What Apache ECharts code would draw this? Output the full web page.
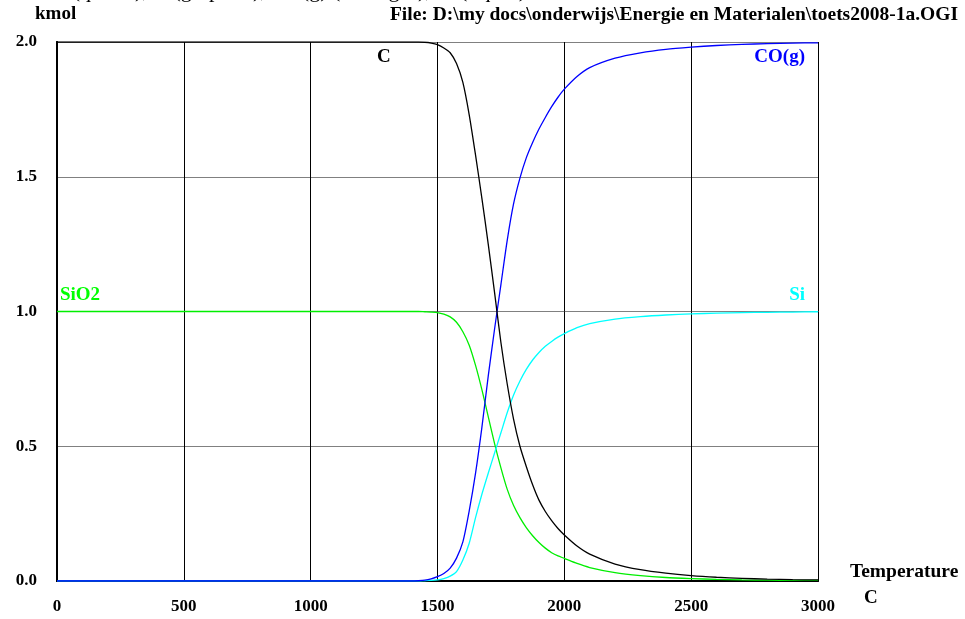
<!DOCTYPE html>
<html>
<head>
<meta charset="utf-8">
<script src="https://cdn.jsdelivr.net/npm/echarts@6/dist/echarts.min.js"></script>
<style>
    html, body {margin:0;padding:0;background:#ffffff;}
    #chart {width:965px;height:619px;}
</style>
</head>
<body>
<div id="chart"></div>
<script>
    // temperature (C)
    var temps = [0, 500, 1000, 1400, 1425, 1450, 1475, 1500, 1525, 1550, 1575, 1600, 1625, 1650, 1675,
        1700, 1725, 1750, 1775, 1800, 1825, 1850, 1875, 1900, 1925, 1950, 1975, 2000, 2050, 2100,
        2200, 2300, 2400, 2500, 2600, 2700, 2800, 2900, 3000];
    // amounts in kmol
    var cVals = [2, 2, 2, 2, 2, 1.999, 1.996, 1.99, 1.978, 1.96, 1.92, 1.85, 1.73, 1.58, 1.42,
        1.25, 1.07, 0.885, 0.73, 0.60, 0.50, 0.425, 0.357, 0.30, 0.258, 0.224, 0.195, 0.171, 0.13, 0.10,
        0.063, 0.042, 0.029, 0.02, 0.014, 0.010, 0.007, 0.005, 0.004];
    var coVals = [0, 0, 0, 0, 0.001, 0.003, 0.008, 0.016, 0.028, 0.048, 0.085, 0.145, 0.26, 0.40, 0.57,
        0.76, 0.935, 1.10, 1.265, 1.40, 1.495, 1.57, 1.627, 1.677, 1.72, 1.76, 1.795, 1.825, 1.872, 1.905,
        1.94, 1.96, 1.973, 1.981, 1.987, 1.991, 1.994, 1.996, 1.997];
    var sio2Vals = [1, 1, 1, 1, 1, 0.999, 0.998, 0.996, 0.99, 0.98, 0.96, 0.925, 0.875, 0.80, 0.71,
        0.61, 0.51, 0.42, 0.34, 0.28, 0.235, 0.198, 0.168, 0.143, 0.122, 0.105, 0.093, 0.084, 0.065, 0.05,
        0.031, 0.02, 0.013, 0.009, 0.006, 0.004, 0.003, 0.002, 0.002];
    var siVals = [0, 0, 0, 0, 0, 0.001, 0.002, 0.004, 0.009, 0.018, 0.035, 0.078, 0.14, 0.235, 0.322,
        0.40, 0.475, 0.55, 0.625, 0.69, 0.742, 0.785, 0.82, 0.848, 0.871, 0.889, 0.905, 0.918, 0.94, 0.955,
        0.972, 0.981, 0.987, 0.991, 0.994, 0.996, 0.997, 0.998, 0.999];

    function pairs(vals) {
        var out = [];
        for (var i = 0; i < temps.length; i++) {
            out.push([temps[i], vals[i]]);
        }
        return out;
    }

    var font = '"Liberation Serif", "Times New Roman", serif';
    var myChart = echarts.init(document.getElementById('chart'));

    function line(name, vals, color) {
        return {
            name: name,
            type: 'line',
            data: pairs(vals),
            showSymbol: false,
            smooth: 0.25,
            lineStyle: {color: color, width: 1.3},
            itemStyle: {color: color},
            z: 5
        };
    }

    function txt(pos, text, size, color) {
        var style = {text: text, fontFamily: font, fontWeight: 'bold', fontSize: size, fill: color};
        return Object.assign({type: 'text', style: style}, pos);
    }

    var option = {
        animation: false,
        backgroundColor: '#ffffff',
        grid: {left: 57, right: 147, top: 42, bottom: 38},
        xAxis: [{
            type: 'value',
            min: 0, max: 3000, interval: 500,
            axisLine: {show: true, onZero: false, lineStyle: {color: '#000', width: 2}},
            axisTick: {show: false},
            axisLabel: {
                margin: 17, color: '#000', fontFamily: font, fontWeight: 'bold', fontSize: 17,
                formatter: function (v) { return String(v); }
            },
            splitLine: {show: true, lineStyle: {color: '#000', width: 1}}
        }, {
            type: 'value', position: 'top',
            min: 0, max: 3000,
            axisLine: {show: true, lineStyle: {color: '#000', width: 2}},
            axisTick: {show: false}, axisLabel: {show: false}, splitLine: {show: false}
        }],
        yAxis: [{
            type: 'value',
            min: 0, max: 2, interval: 0.5,
            axisLine: {show: true, onZero: false, lineStyle: {color: '#000', width: 2}},
            axisTick: {show: false},
            axisLabel: {
                margin: 20, color: '#000', fontFamily: font, fontWeight: 'bold', fontSize: 17,
                formatter: function (v) { return v.toFixed(1); }
            },
            splitLine: {show: true, lineStyle: {color: '#808080', width: 1}}
        }, {
            type: 'value', position: 'right',
            min: 0, max: 2,
            axisLine: {show: true, lineStyle: {color: '#000', width: 2}},
            axisTick: {show: false}, axisLabel: {show: false}, splitLine: {show: false}
        }],
        series: [
            line('SiO2', sio2Vals, '#00ee00'),
            line('Si', siVals, '#00ffff'),
            line('CO(g)', coVals, '#0000ff'),
            line('C', cVals, '#000000')
        ],
        graphic: [
            {type: 'text', left: 22, top: -20, style: {text: 'SiO2 (quartz), C (graphite), CO(g) (ideal gas), Si (liquid) ', fontFamily: font, fontSize: 22, fill: '#000'}},
            txt({left: 35, top: 5}, 'kmol', 19, '#000'),
            txt({right: 7, top: 5}, 'File: D:\\my docs\\onderwijs\\Energie en Materialen\\toets2008-1a.OGI', 19.5, '#000'),
            txt({left: 850, top: 562}, 'Temperature', 19.5, '#000'),
            txt({left: 864, top: 589}, 'C', 19, '#000'),
            txt({left: 377, top: 48}, 'C', 19, '#000'),
            txt({right: 160, top: 48}, 'CO(g)', 19, '#0000ff'),
            txt({left: 60, top: 286}, 'SiO2', 19, '#00ff00'),
            txt({right: 160, top: 286}, 'Si', 19, '#00ffff')
        ]
    };
    myChart.setOption(option, true);
</script>
</body>
</html>
